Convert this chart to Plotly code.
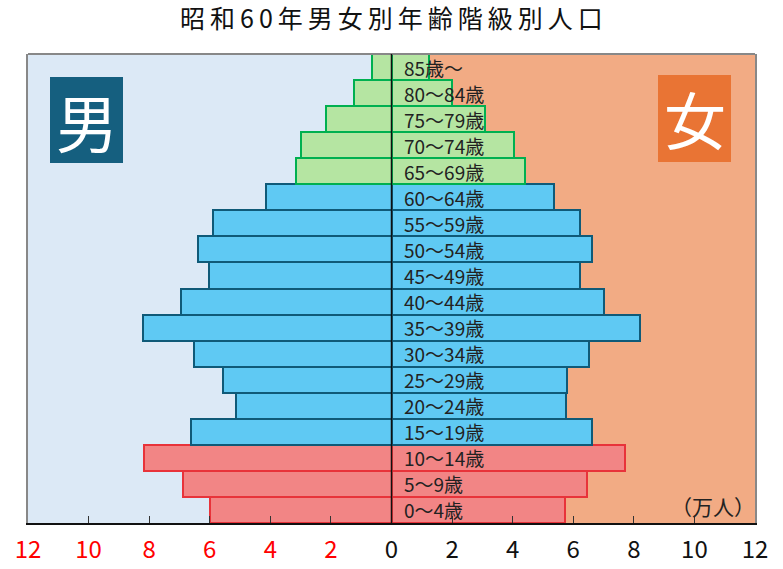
import plotly.graph_objects as go

# 年齢階級（下から上へ）
age_groups = ["0～4歳", "5～9歳", "10～14歳", "15～19歳", "20～24歳", "25～29歳",
              "30～34歳", "35～39歳", "40～44歳", "45～49歳", "50～54歳", "55～59歳",
              "60～64歳", "65～69歳", "70～74歳", "75～79歳", "80～84歳", "85歳～"]
male = [6.00, 6.89, 8.17, 6.63, 5.14, 5.57, 6.53, 8.21, 6.95, 6.03, 6.39, 5.90,
        4.14, 3.16, 3.00, 2.17, 1.25, 0.64]
female = [5.72, 6.45, 7.70, 6.61, 5.75, 5.79, 6.52, 8.20, 7.02, 6.22, 6.61, 6.22,
          5.37, 4.41, 4.04, 3.09, 2.01, 1.23]
tick_vals = [-12, -10, -8, -6, -4, -2, 0, 2, 4, 6, 8, 10, 12]

FONT = "Noto Sans CJK JP"
W, H = 783, 569
PW, PH = 727, 469  # plot area


def px(x):
    return (x - 28) / PW


def py(y):
    return (523 - y) / PH


# 年少・生産年齢・老年で色分け
fills, lines = [], []
for i in range(len(age_groups)):
    if i < 3:
        fills.append("#F28585"); lines.append("#E8333A")
    elif i < 13:
        fills.append("#5FC9F3"); lines.append("#0F5A78")
    else:
        fills.append("#B5E5A2"); lines.append("#00B050")

fig = go.Figure()
fig.add_trace(go.Bar(y=age_groups, x=[-v for v in male], orientation="h",
                     marker=dict(color=fills, line=dict(color=lines, width=2)),
                     name="男"))
fig.add_trace(go.Bar(y=age_groups, x=female, orientation="h",
                     marker=dict(color=fills, line=dict(color=lines, width=2)),
                     name="女"))

# 背景（左：男、右：女）
fig.add_shape(type="rect", xref="x", yref="paper", x0=-12, x1=0, y0=0, y1=1,
              fillcolor="#DCE9F6", line_width=0, layer="below")
fig.add_shape(type="rect", xref="x", yref="paper", x0=0, x1=12, y0=0, y1=1,
              fillcolor="#F2AB84", line_width=0, layer="below")
# 枠線と中心線
fig.add_shape(type="line", xref="paper", yref="paper", x0=0, x1=1, y0=1, y1=1,
              line=dict(color="#888888", width=2))
fig.add_shape(type="line", xref="x", yref="paper", x0=0, x1=0, y0=0, y1=1,
              line=dict(color="#111111", width=1.5), layer="above")

for name in age_groups:
    fig.add_annotation(x=0, y=name, xref="x", yref="y", text=name, showarrow=False,
                       xanchor="left", xshift=10, font=dict(family=FONT, size=19, color="#222222"))

# 男・女の見出し
fig.add_shape(type="rect", xref="paper", yref="paper",
              x0=px(50), x1=px(123), y0=py(163), y1=py(77),
              fillcolor="#155F7F", line_width=0)
fig.add_shape(type="rect", xref="paper", yref="paper",
              x0=px(658), x1=px(731), y0=py(162), y1=py(75),
              fillcolor="#E97434", line_width=0)
fig.add_annotation(x=px(86.5), y=py(121), xref="paper", yref="paper", text="男",
                   showarrow=False, xanchor="center", yanchor="middle",
                   font=dict(family=FONT, size=62, color="white"))
fig.add_annotation(x=px(694.5), y=py(118), xref="paper", yref="paper", text="女",
                   showarrow=False, xanchor="center", yanchor="middle",
                   font=dict(family=FONT, size=62, color="white"))
fig.add_annotation(x=1, y=py(506), xref="paper", yref="paper", text="（万人）",
                   showarrow=False, xanchor="right", yanchor="middle", xshift=2,
                   font=dict(family=FONT, size=21, color="#222222"))

tick_text = []
for t in tick_vals:
    if t < 0:
        tick_text.append("<span style='color:#FF0000'>%d</span>" % abs(t))
    else:
        tick_text.append(str(t))

fig.update_layout(
    width=W, height=H,
    margin=dict(l=28, r=28, t=54, b=46),
    barmode="overlay", bargap=0,
    showlegend=False,
    paper_bgcolor="white", plot_bgcolor="white",
    title=dict(text="昭\u2009和\u20096\u20090\u2009年\u2009男\u2009女\u2009別\u2009年\u2009齢\u2009階\u2009級\u2009別\u2009人\u2009口",
               x=0.5, xanchor="center", y=1 - 19 / H, yanchor="middle",
               font=dict(family=FONT, size=25, color="#111111")),
    font=dict(family=FONT),
    xaxis=dict(range=[-12, 12], tickvals=tick_vals, ticktext=tick_text, automargin=False,
               showgrid=False, zeroline=False, showline=True, linecolor="#111111", linewidth=2,
               ticks="inside", ticklen=7, tickcolor="#333333", ticklabelstandoff=4,
               tickfont=dict(family=FONT, size=24, color="#111111"), fixedrange=True),
    yaxis=dict(categoryorder="array", categoryarray=age_groups, range=[-0.5, 17.5],
               automargin=False, showticklabels=False, showgrid=False, zeroline=False,
               showline=True, mirror=True, linecolor="#888888", linewidth=2, ticks=""),
)

# ページ本体の既定余白を消して図を左上に合わせる
fig.write_html("out.html", config={"displayModeBar": False},
               post_script="document.body.style.margin='0';")
